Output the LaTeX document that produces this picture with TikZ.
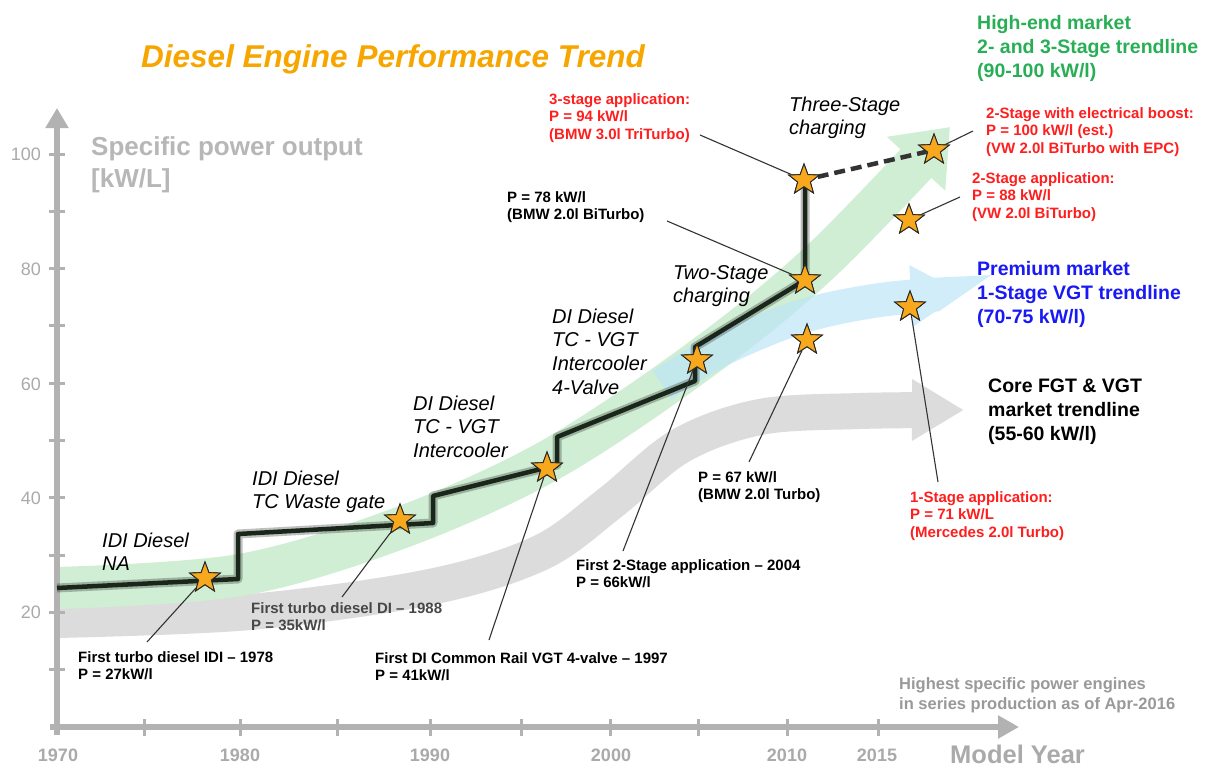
\documentclass[tikz,border=0pt]{standalone}
\usepackage{fontspec}
\setmainfont{Liberation Sans}
\usetikzlibrary{shapes.geometric,arrows.meta}
\definecolor{axisgray}{RGB}{178,178,178}
\definecolor{textgray}{RGB}{170,170,170}
\definecolor{titleorange}{RGB}{247,166,0}
\definecolor{starfill}{RGB}{247,168,28}
\definecolor{labred}{RGB}{255,30,30}
\definecolor{labgreen}{RGB}{40,175,85}
\definecolor{labblue}{RGB}{25,25,245}
\definecolor{bandgreen}{RGB}{208,238,211}
\definecolor{bandblue}{RGB}{190,230,248}
\definecolor{bandgray}{RGB}{220,220,220}
\definecolor{stepcol}{RGB}{25,38,25}
\newcommand{\mlines}[1]{\begin{tabular}[t]{@{}l@{}}#1\end{tabular}}
\tikzset{
  lab/.style={font=\fontsize{15}{17.6}\selectfont\bfseries, anchor=base west, inner sep=0pt},
  big/.style={font=\fontsize{19.5}{24}\selectfont\bfseries, anchor=base west, inner sep=0pt},
  ital/.style={font=\fontsize{20}{23.7}\selectfont\itshape, anchor=base west, inner sep=0pt},
  leader/.style={draw=black!80, line width=1.1pt},
  starnode/.style={star, star points=5, star point ratio=2.4, minimum size=32pt, inner sep=0pt,
    fill=starfill, draw=black!85, line width=0.9pt},
  axisline/.style={draw=axisgray, line width=6pt},
  tickline/.style={draw=axisgray, line width=3pt},
  yearlab/.style={font=\fontsize{18}{20}\selectfont\bfseries, text=textgray, anchor=base, inner sep=0pt},
  vallab/.style={font=\fontsize{18}{20}\selectfont, text=textgray, anchor=base east, inner sep=0pt},
  stepline/.style={draw=stepcol, line width=4.5pt, line join=round},
  dashline/.style={draw=black!80, line width=4.5pt, dash pattern=on 11pt off 6pt},
  band/.style={line width=#1, line cap=butt},
}
\begin{document}
\begin{tikzpicture}[x=1pt,y=-1pt]
\useasboundingbox[fill=white] (0,0) rectangle (1205,768);

% ---- trend bands ----
\draw[band=36pt, draw=bandgray, -{Triangle[width=58pt,length=52pt]}]
  plot[smooth, tension=0.55] coordinates {(57,620) (250,612) (430,587) (540,553) (610,503) (680,446) (760,417) (860,411) (964,410)};
\draw[band=42pt, draw=bandgreen, -{Triangle[width=76pt,length=50pt]}]
  plot[smooth, tension=0.55] coordinates {(57,588) (240,575) (400,528) (550,460) (700,360) (820,262) (950,127)};
\begin{scope}[transparency group, opacity=0.7]
\draw[band=34pt, draw=bandblue, -{Triangle[width=58pt,length=52pt]}]
  plot[smooth, tension=0.55] coordinates {(662,385) (720,350) (800,317) (880,300) (963,293)};
\end{scope}

% ---- axes ----
\draw[axisline, -{Triangle[width=22pt,length=20pt]}] (57,735) -- (57,108);
\draw[axisline, -{Triangle[width=22pt,length=21pt]}] (50,727) -- (1019,727);
\foreach \v in {10,20,...,100} \draw[tickline] (49,{727-5.73*\v}) -- (65,{727-5.73*\v});
\foreach \xx in {144,240,337,430,521,610,698,787,878} \draw[tickline] (\xx,719) -- (\xx,736);

\node[vallab] (v100) at (41,160) {100};
\node[vallab] (v80) at (41,275) {80};
\node[vallab] (v60) at (41,390) {60};
\node[vallab] (v40) at (41,504) {40};
\node[vallab] (v20) at (41,618) {20};
\node[yearlab] (y1970) at (58,761) {1970};
\node[yearlab] (y1980) at (240,761) {1980};
\node[yearlab] (y1990) at (430,761) {1990};
\node[yearlab] (y2000) at (611,761) {2000};
\node[yearlab] (y2010) at (787,761) {2010};
\node[yearlab] (y2015) at (877,761) {2015};
\node[font=\fontsize{25.5}{28}\selectfont\bfseries, text=textgray, anchor=base west, inner sep=0pt] (mylab) at (950,763) {Model Year};
\node[font=\fontsize{16.5}{20}\selectfont\bfseries, text=textgray!90!black, anchor=base west, inner sep=0pt] (note) at (899,689)
  {\mlines{Highest specific power engines\\in series production as of Apr-2016}};
\node[font=\fontsize{26}{32}\selectfont\bfseries, text=textgray!85!white, anchor=base west, inner sep=0pt] (ylab) at (91,155)
  {\mlines{Specific power output\\{[kW/L]}}};

% ---- title ----
\node[font=\fontsize{31.5}{34}\selectfont\bfseries\itshape, text=titleorange, anchor=base, inner sep=0pt] (title) at (393,68)
  {Diesel Engine Performance Trend};

% ---- step line ----
\coordinate (c0) at (57,588);
\coordinate (c1) at (238,579);
\coordinate (c2) at (238,534);
\coordinate (c3) at (433,523);
\coordinate (c4) at (433,496);
\coordinate (c5) at (557,465);
\coordinate (c6) at (557,437);
\coordinate (c7) at (695,381);
\coordinate (c8) at (695,347);
\coordinate (c9) at (805,280);
\coordinate (c10) at (805,180);
\draw[draw=black, opacity=0.25, line width=9pt, line join=round] (c0) -- (c1) -- (c2) -- (c3) -- (c4) -- (c5) -- (c6) -- (c7) -- (c8) -- (c9) -- (c10);
\draw[stepline] (c0) -- (c1) -- (c2) -- (c3) -- (c4) -- (c5) -- (c6) -- (c7) -- (c8) -- (c9) -- (c10);

% ---- stars ----
\node[starnode] (s1) at (205,578) {};
\node[starnode] (s2) at (400,520) {};
\node[starnode] (s3) at (547,468) {};
\node[starnode] (s4) at (697,360) {};
\node[starnode] (s5) at (805,280) {};
\node[starnode] (s6) at (804,180) {};
\node[starnode] (s7) at (934,150) {};
\node[starnode] (s8) at (909,220) {};
\node[starnode] (s9) at (910,307) {};
\node[starnode] (s10) at (807,340) {};

\draw[dashline] (s6) -- (s7);

% ---- leaders ----
\coordinate (l1) at (147,642);
\coordinate (l2) at (342,597);
\coordinate (l3) at (489,640);
\coordinate (l4) at (623,551);
\coordinate (l5) at (749,462);
\coordinate (l6) at (938,482);
\coordinate (l7) at (667,221);
\coordinate (l8) at (700,135);
\coordinate (l9) at (973,131);
\coordinate (l10) at (960,197);
\draw[leader] (l1) -- (s1);
\draw[leader] (l2) -- (s2);
\draw[leader] (l3) -- (s3);
\draw[leader] (l4) -- (s4);
\draw[leader] (l5) -- (s10);
\draw[leader] (l6) -- (s9);
\draw[leader] (l7) -- (s5);
\draw[leader] (l8) -- (s6);
\draw[leader] (l9) -- (s7);
\draw[leader] (l10) -- (s8);
% redraw stars over leaders
\node[starnode] at (s1.center) {};
\node[starnode] at (s2.center) {};
\node[starnode] at (s3.center) {};
\node[starnode] at (s4.center) {};
\node[starnode] at (s5.center) {};
\node[starnode] at (s6.center) {};
\node[starnode] at (s7.center) {};
\node[starnode] at (s8.center) {};
\node[starnode] at (s9.center) {};
\node[starnode] at (s10.center) {};

% ---- labels ----
\node[lab] (t1) at (78,662) {\mlines{First turbo diesel IDI -- 1978\\P = 27kW/l}};
\node[lab, text=black!72] (t2) at (251,613) {\mlines{First turbo diesel DI -- 1988\\P = 35kW/l}};
\node[lab] (t3) at (375,663) {\mlines{First DI Common Rail VGT 4-valve -- 1997\\P = 41kW/l}};
\node[lab] (t4) at (576,570) {\mlines{First 2-Stage application -- 2004\\P = 66kW/l}};
\node[lab] (t5) at (698,482) {\mlines{P = 67 kW/l\\(BMW 2.0l Turbo)}};
\node[lab, text=labred] (t6) at (910,502) {\mlines{1-Stage application:\\P = 71 kW/L\\(Mercedes 2.0l Turbo)}};
\node[lab] (t7) at (507,202) {\mlines{P = 78 kW/l\\(BMW 2.0l BiTurbo)}};
\node[lab, text=labred] (t8) at (549,104) {\mlines{3-stage application:\\P = 94 kW/l\\(BMW 3.0l TriTurbo)}};
\node[lab, text=labred] (t9) at (986,118) {\mlines{2-Stage with electrical boost:\\P = 100 kW/l (est.)\\(VW 2.0l BiTurbo with EPC)}};
\node[lab, text=labred] (t10) at (972,183) {\mlines{2-Stage application:\\P = 88 kW/l\\(VW 2.0l BiTurbo)}};

\node[big, text=labgreen] (hi) at (977,30) {\mlines{High-end market\\2- and 3-Stage trendline\\(90-100 kW/l)}};
\node[big, text=labblue] (pm) at (977,275) {\mlines{Premium market\\1-Stage VGT trendline\\(70-75 kW/l)}};
\node[big] (core) at (988,392) {\mlines{Core FGT \& VGT\\market trendline\\(55-60 kW/l)}};

\node[ital] (e1) at (102,547) {\mlines{IDI Diesel\\NA}};
\node[ital] (e2) at (252,485) {\mlines{IDI Diesel\\TC Waste gate}};
\node[ital] (e3) at (413,410) {\mlines{DI Diesel\\TC - VGT\\Intercooler}};
\node[ital] (e4) at (552,323) {\mlines{DI Diesel\\TC - VGT\\Intercooler\\4-Valve}};
\node[ital] (e5) at (673,279) {\mlines{Two-Stage\\charging}};
\node[ital] (e6) at (789,111) {\mlines{Three-Stage\\charging}};
\end{tikzpicture}
\end{document}
